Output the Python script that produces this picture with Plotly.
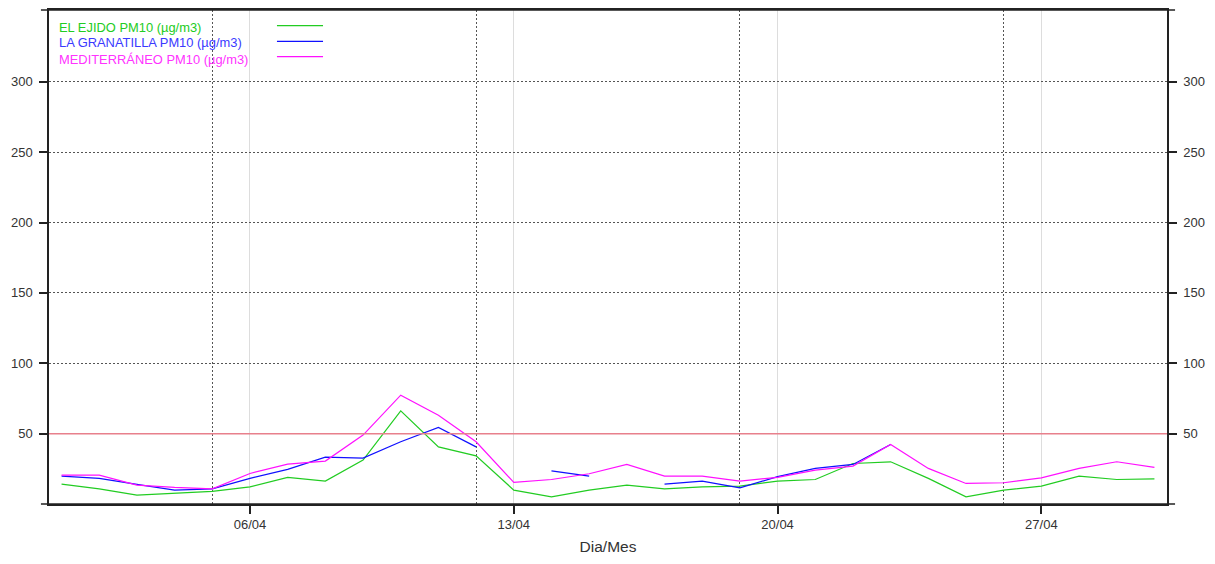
import pandas as pd
import plotly.graph_objects as go

# --- data (daily PM10, April) ---
DAYS = pd.date_range("2021-04-01", "2021-04-30", freq="D")

EL_EJIDO = [14.1, 10.8, 6.3, 7.5, 9.0, 12.2, 18.9, 16.3, 31.2, 66.2,
            40.6, 34.2, 9.9, 5.1, 9.9, 13.4, 10.8, 12.2, 12.7, 16.3,
            17.4, 28.8, 30.0, 18.2, 5.1, 9.9, 12.7, 19.8, 17.4, 17.9]
LA_GRANATILLA = [19.8, 18.2, 13.9, 9.9, 10.8, 18.2, 24.6, 33.3, 32.6, 44.2,
                 54.4, 40.6, None, 23.6, 19.8, None, 14.1, 16.3, 11.5, 19.4,
                 25.3, 28.1, 42.3, None, None, None, None, None, None, None]
MEDITERRANEO = [20.5, 20.5, 13.4, 11.8, 10.8, 21.7, 28.3, 30.5, 49.0, 77.3,
                63.1, 44.2, 15.3, 17.4, 21.5, 28.1, 19.8, 19.8, 16.3, 18.9,
                24.1, 26.9, 42.3, 25.3, 14.6, 15.1, 18.6, 25.3, 30.0, 26.0]

SERIES_NAMES = ["EL EJIDO PM10 (µg/m3)", "LA GRANATILLA PM10 (µg/m3)", "MEDITERRÁNEO PM10 (µg/m3)"]
SERIES_COLORS = ["#22cc22", "#1010ff", "#ff10ff"]
LABEL_COLORS = ["#22cc22", "#3a3aff", "#ff33ff"]

LIMIT_VALUE = 50
Y_TICKS = [50, 100, 150, 200, 250, 300]
X_TICKS = ["2021-04-06", "2021-04-13", "2021-04-20", "2021-04-27"]
X_TICK_TEXT = ["06/04", "13/04", "20/04", "27/04"]

FONT = "Liberation Sans, Arial, sans-serif"
AXIS_COLOR = "#222222"
TEXT_COLOR = "#333333"

fig = go.Figure()

for name, values, color in zip(SERIES_NAMES, [EL_EJIDO, LA_GRANATILLA, MEDITERRANEO], SERIES_COLORS):
    fig.add_trace(go.Scatter(
        x = DAYS, y = values, mode = "lines", name = name,
        line = {"color": color, "width": 1.2}, connectgaps = False,
    ))

# limit value line
fig.add_hline(y = LIMIT_VALUE, line = {"color": "#e8808c", "width": 1.5})

# legend drawn lattice-style: coloured text, line sample on the right
legend_text_y = [0.9636, 0.9332, 0.9008]
legend_line_y = [0.9682, 0.9366, 0.9055]
for name, tcolor, lcolor, ty, ly in zip(SERIES_NAMES, LABEL_COLORS, SERIES_COLORS, legend_text_y, legend_line_y):
    fig.add_annotation(
        x = 0.0072, y = ty, xref = "paper", yref = "paper", text = name,
        showarrow = False, xanchor = "left", yanchor = "middle",
        font = {"family": FONT, "size": 12.9, "color": tcolor},
    )
    fig.add_shape(
        type = "line", xref = "paper", yref = "paper",
        x0 = 0.2039, x1 = 0.2451, y0 = ly, y1 = ly,
        line = {"color": lcolor, "width": 1.3},
    )

# frame lines that overhang the plot a little, as in the original
for yy in [0, 1]:
    fig.add_shape(
        type = "line", xref = "paper", yref = "paper",
        x0 = -0.0072, x1 = 1.0072, y0 = yy, y1 = yy,
        line = {"color": AXIS_COLOR, "width": 1.5},
    )

tick_font = {"family": FONT, "size": 13, "color": TEXT_COLOR}

# page body adds an 8px margin on every side, so the figure is 16px smaller
fig.update_layout(
    width = 1199, height = 548,
    margin = {"l": 41, "r": 40, "t": 2, "b": 52},
    paper_bgcolor = "white", plot_bgcolor = "white",
    showlegend = False,
    font = {"family": FONT, "size": 13, "color": TEXT_COLOR},
    xaxis = {
        "type": "date",
        "range": ["2021-03-31 16:00", "2021-04-30 08:00"],
        "tickvals": X_TICKS, "ticktext": X_TICK_TEXT,
        "ticks": "outside", "ticklen": 8, "tickcolor": AXIS_COLOR, "tickwidth": 1.5,
        "showline": True, "linecolor": AXIS_COLOR, "linewidth": 1.5, "mirror": "ticks",
        "showgrid": True, "gridcolor": "#dddddd", "gridwidth": 1,
        "minor": {
            "tick0": "2021-04-05", "dtick": 7 * 24 * 3600 * 1000,
            "showgrid": True, "gridcolor": "#555555", "griddash": "2px,2px", "gridwidth": 1,
            "ticks": "",
        },
        "zeroline": False, "automargin": False,
        "title": {"text": "Dia/Mes", "font": {"family": FONT, "size": 15.5, "color": TEXT_COLOR}, "standoff": 10},
        "tickfont": tick_font,
    },
    yaxis = {
        "range": [0, 351],
        "tickvals": Y_TICKS,
        "ticks": "outside", "ticklen": 8, "tickcolor": AXIS_COLOR, "tickwidth": 1.5,
        "showline": True, "linecolor": AXIS_COLOR, "linewidth": 1.5,
        "showgrid": True, "gridcolor": "#555555", "griddash": "2px,2px", "gridwidth": 1,
        "zeroline": False, "automargin": False, "ticklabelstandoff": 4,
        "tickfont": tick_font,
    },
    yaxis2 = {
        "overlaying": "y", "side": "right", "matches": "y",
        "range": [0, 351],
        "tickvals": Y_TICKS,
        "ticks": "outside", "ticklen": 8, "tickcolor": AXIS_COLOR, "tickwidth": 1.5,
        "showline": True, "linecolor": AXIS_COLOR, "linewidth": 1.5,
        "showgrid": False, "zeroline": False, "automargin": False, "ticklabelstandoff": 4,
        "tickfont": tick_font,
    },
)

# empty trace so the right-hand axis is drawn
fig.add_trace(go.Scatter(x = [], y = [], yaxis = "y2", showlegend = False, hoverinfo = "skip"))

fig.write_html("out.html")
